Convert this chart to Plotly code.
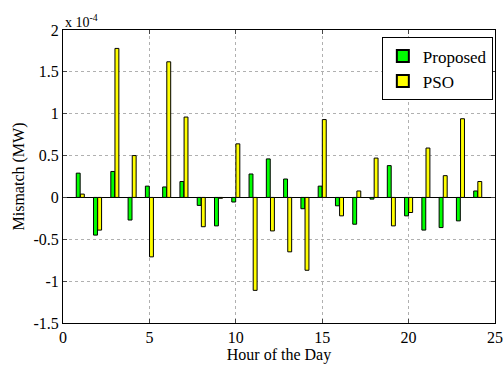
import plotly.graph_objects as go

hours = list(range(1, 25))
proposed = [0.29, -0.45, 0.31, -0.27, 0.135, 0.125, 0.19, -0.095, -0.34, -0.055,
            0.28, 0.46, 0.22, -0.135, 0.135, -0.10, -0.32, -0.02, 0.38, -0.22,
            -0.39, -0.36, -0.28, 0.077]
pso = [0.04, -0.39, 1.78, 0.50, -0.71, 1.62, 0.96, -0.35, -0.01, 0.64,
       -1.11, -0.40, -0.65, -0.87, 0.93, -0.22, 0.077, 0.47, -0.34, -0.18,
       0.59, 0.26, 0.94, 0.19]
xticks = [0, 5, 10, 15, 20, 25]
yticks = [-1.5, -1, -0.5, 0, 0.5, 1, 1.5, 2]
ytick_text = ["-1.5", "-1", "-0.5", "0", "0.5", "1", "1.5", "2"]

font = "Liberation Serif"

fig = go.Figure()
fig.add_trace(go.Bar(x=hours, y=proposed, name="Proposed",
                     marker=dict(color="#00FF00", line=dict(color="black", width=1))))
fig.add_trace(go.Bar(x=hours, y=pso, name="PSO",
                     marker=dict(color="#FFFF00", line=dict(color="black", width=1))))

fig.update_layout(
    width=503, height=365,
    margin=dict(l=63, r=8, t=30, b=42, autoexpand=False),
    paper_bgcolor="white", plot_bgcolor="white",
    barmode="group", bargap=0.52, bargroupgap=0.06,
    font=dict(family=font, size=15, color="black"),
    showlegend=True,
    legend=dict(x=0.995, y=0.975, xanchor="right", yanchor="top",
                bgcolor="white", bordercolor="black", borderwidth=1,
                font=dict(family=font, size=17), tracegroupgap=0,
                itemsizing="constant"),
    annotations=[dict(text="x 10<sup>-4</sup>", x=0, y=1.0, xref="paper", yref="paper",
                      xanchor="left", yanchor="bottom", showarrow=False,
                      font=dict(family=font, size=14), yshift=-2)],
)
fig.update_xaxes(range=[0, 25], tickvals=xticks, ticks="inside", ticklen=4,
                 showline=True, linecolor="black", linewidth=1, mirror="ticks",
                 showgrid=True, gridcolor="#b0b0b0", griddash="dot", gridwidth=1,
                 zeroline=False, automargin=False,
                 tickfont=dict(family=font, size=16),
                 title=dict(text="Hour of the Day", standoff=2, font=dict(size=16)))
fig.update_yaxes(range=[-1.5, 2], tickvals=yticks, ticktext=ytick_text,
                 ticks="inside", ticklen=4, automargin=False,
                 showline=True, linecolor="black", linewidth=1, mirror="ticks",
                 showgrid=True, gridcolor="#b0b0b0", griddash="dot", gridwidth=1,
                 zeroline=True, zerolinecolor="black", zerolinewidth=1,
                 tickfont=dict(family=font, size=16),
                 title=dict(text="Mismatch (MW)", standoff=4, font=dict(size=16)))

fig.write_html("out.html", config={"displayModeBar": False},
               post_script="document.body.style.margin='0';")
